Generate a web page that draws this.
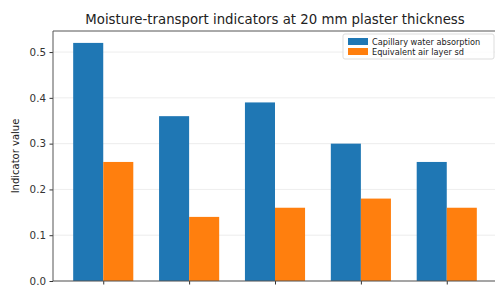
<!DOCTYPE html>
<html>
<head>
<meta charset="utf-8">
<script src="https://cdn.jsdelivr.net/npm/d3@7"></script>
<style>
  body { margin: 0; background: #fff; }
  text { font-family: "DejaVu Sans", sans-serif; }
</style>
</head>
<body>
<div id="chart"></div>
<script>
const categories = ["A", "B", "C", "D", "E"];
const capillary = [0.52, 0.36, 0.39, 0.30, 0.26];
const airLayer = [0.26, 0.14, 0.16, 0.18, 0.16];
const seriesNames = ["Capillary water absorption", "Equivalent air layer sd"];
const yTicks = [0.0, 0.1, 0.2, 0.3, 0.4, 0.5];

const width = 495;
const height = 286;
const margin = { top: 31, right: -2, bottom: 5, left: 53 };

const svg = d3
  .select("#chart")
  .append("svg")
  .attr("width", width)
  .attr("height", height);

const barW = 0.35;
const xScale = d3
  .scaleLinear()
  .domain([-0.585, categories.length - 1 + 0.585])
  .range([margin.left, width - margin.right]);

const yScale = d3
  .scaleLinear()
  .domain([0, 0.546])
  .range([height - margin.bottom, margin.top]);

// grid
svg
  .append("g")
  .selectAll("line")
  .data(yTicks)
  .enter()
  .append("line")
  .attr("x1", margin.left)
  .attr("x2", width - margin.right)
  .attr("y1", (d) => yScale(d))
  .attr("y2", (d) => yScale(d))
  .attr("stroke", "#e8e8e8")
  .attr("stroke-width", 0.8);

// bars
const series = [capillary, airLayer];
const colors = ["#1f77b4", "#ff7f0e"];
series.forEach((vals, s) => {
  svg
    .append("g")
    .selectAll("rect")
    .data(vals)
    .enter()
    .append("rect")
    .attr("x", (d, i) => xScale(i + (s - 1) * barW))
    .attr("y", (d) => yScale(d))
    .attr("width", xScale(barW) - xScale(0))
    .attr("height", (d) => yScale(0) - yScale(d))
    .attr("fill", colors[s]);
});

// axes
const yAxis = d3
  .axisLeft(yScale)
  .tickValues(yTicks)
  .tickFormat(d3.format(".1f"))
  .tickSize(3.5)
  .tickPadding(3.5);
const gy = svg
  .append("g")
  .attr("transform", `translate(${margin.left},0)`)
  .call(yAxis);
gy.select(".domain").remove();
gy.selectAll("line").attr("stroke", "#333");
gy.selectAll("text").attr("font-size", 10.3).attr("fill", "#333");

const xAxis = d3
  .axisBottom(xScale)
  .tickValues(d3.range(categories.length))
  .tickFormat("")
  .tickSize(3.5);
const gx = svg
  .append("g")
  .attr("transform", `translate(0,${height - margin.bottom})`)
  .call(xAxis);
gx.select(".domain").remove();
gx.selectAll("line").attr("stroke", "#333");

// spines
const spine = svg.append("g").attr("stroke", "#555").attr("stroke-width", 1);
spine.append("line")
  .attr("x1", margin.left).attr("x2", margin.left)
  .attr("y1", margin.top).attr("y2", height - margin.bottom);
spine.append("line")
  .attr("x1", margin.left).attr("x2", width - margin.right)
  .attr("y1", height - margin.bottom).attr("y2", height - margin.bottom);
spine.append("line")
  .attr("x1", margin.left).attr("x2", width - margin.right)
  .attr("y1", margin.top).attr("y2", margin.top);

// title
svg
  .append("text")
  .attr("x", (margin.left + width - margin.right) / 2)
  .attr("y", 24)
  .attr("text-anchor", "middle")
  .attr("font-size", 13.3)
  .attr("fill", "#222")
  .text("Moisture-transport indicators at 20 mm plaster thickness");

// y label
svg
  .append("text")
  .attr("transform", `translate(19,${(margin.top + height - margin.bottom) / 2}) rotate(-90)`)
  .attr("text-anchor", "middle")
  .attr("font-size", 10)
  .attr("fill", "#222")
  .text("Indicator value");

// legend
const lg = svg.append("g").attr("transform", "translate(343,34)");
lg.append("rect")
  .attr("width", 151)
  .attr("height", 25)
  .attr("rx", 2)
  .attr("fill", "white")
  .attr("fill-opacity", 0.8)
  .attr("stroke", "#ddd");
seriesNames.forEach((name, i) => {
  lg.append("rect")
    .attr("x", 5)
    .attr("y", 4 + i * 10)
    .attr("width", 20)
    .attr("height", 7)
    .attr("fill", colors[i]);
  lg.append("text")
    .attr("x", 29)
    .attr("y", 10.5 + i * 10)
    .attr("font-size", 8.2)
    .attr("fill", "#222")
    .text(name);
});
</script>
</body>
</html>
